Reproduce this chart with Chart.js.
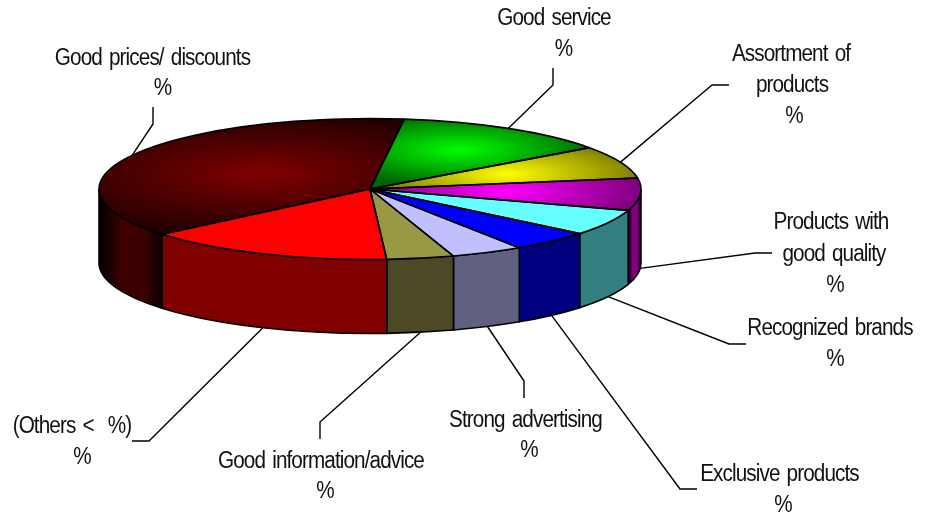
<!DOCTYPE html>
<html>
<head>
<meta charset="utf-8">
<title>3D pie</title>
<script src="https://cdn.jsdelivr.net/npm/chart.js@4"></script>
<style>
  html, body { margin: 0; background: #fff; }
  canvas { display: block; }
</style>
</head>
<body>
<canvas id="pie" width="928" height="514"></canvas>
<script>
// values (shares of the circle, in %)
const categories = ['Good prices/ discounts', 'Good service', 'Assortment of products', 'Products with good quality',
  'Recognized brands', 'Exclusive products', 'Strong advertising', 'Good information/advice', '(Others <  %)'];
const shares = [38.1, 13.0, 7.5, 7.4, 6.0, 4.8, 4.3, 4.0, 14.9];

const topColors  = ['#800000', '#00ff00', '#ffff00', '#ff00ff', '#66ffff', '#0000ff', '#c0c0ff', '#999945', '#ff0000'];
const rimColors  = ['#200000', '#006400', '#7a7a00', '#800080', null, null, null, null, null];
const wallColors = ['#3c0000', '#008000', '#808000', '#800080', '#338080', '#000080', '#606080', '#4d4826', '#800000'];
const shadedWall = [true, false, false, true, false, false, false, false, false];

// text of each callout, one entry per line: [text, centre x, baseline y]
const labelLines = [
  [['Good prices/ discounts', 152.5, 65], ['%', 162.5, 95]],
  [['Good service', 554, 25], ['%', 563.5, 56]],
  [['Assortment of', 791, 61], ['products', 792, 92], ['%', 794, 123]],
  [['Products with', 831, 229], ['good quality', 834, 261], ['%', 835, 292]],
  [['Recognized brands', 830, 335], ['%', 835, 366]],
  [['Exclusive products', 779.5, 481], ['%', 783, 512]],
  [['Strong advertising', 525.5, 427], ['%', 529, 457]],
  [['Good information/advice', 321, 468], ['%', 325, 498]],
  [['(Others <  %)', 72, 433], ['%', 82, 464]],
];
// leader elbow and end, the start comes from the slice itself
const leaderBends = [
  [[153, 124], [153, 107]], [[553, 85], [553, 68]], [[712, 85], [729, 85]],
  [[755, 253], [772, 253]], [[729, 344], [746, 344]], [[680, 489], [697, 489]],
  [[524, 381], [524, 398]], [[320, 422], [320, 439]], [[149, 441], [132, 441]],
];

const RADIUS = 271, FLATTEN = 0.26, DEPTH = 74, ROTATION = 230.1;
const GLOW_RADIUS = [240, 140, 135, 135];
const GLOW_AT = [0.45, 0.65, 0.55, 0.5];

const total = shares.reduce((a, b) => a + b, 0);

function topFill(c) {
  const i = c.dataIndex, area = c.chart.chartArea;
  if (!rimColors[i] || !area) return topColors[i];
  // middle angle of the slice, from the shares
  const before = shares.slice(0, i).reduce((a, b) => a + b, 0);
  const mid = (ROTATION - 90 + (before + shares[i] / 2) / total * 360) * Math.PI / 180;
  const cx = (area.left + area.right) / 2, cy = (area.top + area.bottom) / 2;
  const gx = cx + Math.cos(mid) * RADIUS * GLOW_AT[i], gy = cy + Math.sin(mid) * RADIUS * GLOW_AT[i];
  const g = c.chart.ctx.createRadialGradient(gx, gy, 0, gx, gy, GLOW_RADIUS[i]);
  g.addColorStop(0, topColors[i]);
  g.addColorStop(1, rimColors[i]);
  return g;
}

function wallFill(ctx, i, a0, a1, arc) {
  if (!shadedWall[i]) return wallColors[i];
  // shaded walls run dark - colour - dark from left to right
  const xs = [a0, a1].map(a => arc.x + Math.cos(a) * RADIUS);
  const g = ctx.createLinearGradient(Math.min(...xs), 0, Math.max(...xs), 0);
  g.addColorStop(0, '#000000');
  g.addColorStop(0.35, wallColors[i]);
  g.addColorStop(0.7, wallColors[i]);
  g.addColorStop(1, '#0a000a');
  return g;
}

const pie3d = {
  id: 'pie3d',
  beforeDatasetsDraw(chart) {
    const ctx = chart.ctx, arcs = chart.getDatasetMeta(0).data;
    arcs.forEach((arc, i) => {
      [0, 2 * Math.PI].forEach(turn => {
        const a0 = Math.max(arc.startAngle, turn), a1 = Math.min(arc.endAngle, turn + Math.PI);
        if (a1 <= a0) return;
        ctx.beginPath();
        ctx.ellipse(arc.x, arc.y, RADIUS, RADIUS * FLATTEN, 0, a0, a1);
        ctx.ellipse(arc.x, arc.y + DEPTH, RADIUS, RADIUS * FLATTEN, 0, a1, a0, true);
        ctx.closePath();
        ctx.fillStyle = wallFill(ctx, i, a0 - turn, a1 - turn, arc);
        ctx.fill();
        ctx.strokeStyle = '#000';
        ctx.lineWidth = 1.6;
        ctx.stroke();
      });
    });
    // the library paints the slices in this flattened space
    ctx.save();
    const a = arcs[0];
    ctx.translate(a.x, a.y);
    ctx.scale(1, FLATTEN);
    ctx.translate(-a.x, -a.y);
  },
  afterDatasetsDraw(chart) {
    const ctx = chart.ctx, arcs = chart.getDatasetMeta(0).data;
    ctx.restore();
    ctx.strokeStyle = '#000';
    ctx.lineWidth = 1.6;
    ctx.lineJoin = 'round';
    arcs.forEach(arc => {
      ctx.beginPath();
      ctx.moveTo(arc.x, arc.y);
      ctx.ellipse(arc.x, arc.y, RADIUS, RADIUS * FLATTEN, 0, arc.startAngle, arc.endAngle);
      ctx.closePath();
      ctx.stroke();
    });
  },
  afterDraw(chart) {
    const ctx = chart.ctx, arcs = chart.getDatasetMeta(0).data;
    ctx.strokeStyle = '#000';
    ctx.lineWidth = 1.4;
    arcs.forEach((arc, i) => {
      const mid = (arc.startAngle + arc.endAngle) / 2, s = Math.sin(mid);
      ctx.beginPath();
      ctx.moveTo(arc.x + Math.cos(mid) * RADIUS, arc.y + s * RADIUS * FLATTEN + (s > 0 ? DEPTH : 0));
      leaderBends[i].forEach(p => ctx.lineTo(p[0], p[1]));
      ctx.stroke();
    });
    ctx.fillStyle = '#111';
    ctx.font = '23px "Liberation Sans", Arial, sans-serif';
    ctx.letterSpacing = '-1px';
    ctx.wordSpacing = '2.5px';
    ctx.textAlign = 'center';
    ctx.textBaseline = 'alphabetic';
    // the reference text is a bit condensed
    labelLines.forEach(lines => lines.forEach(l => {
      ctx.save();
      ctx.translate(l[1], l[2]);
      ctx.scale(0.9, 1);
      ctx.fillText(l[0], 0, 0);
      ctx.restore();
    }));
  },
};

new Chart(document.getElementById('pie'), {
  type: 'pie',
  data: {
    labels: categories,
    datasets: [{ data: shares, backgroundColor: topFill, borderWidth: 0, clip: false }],
  },
  options: {
    responsive: false,
    animation: false,
    rotation: ROTATION,
    radius: RADIUS,
    layout: { padding: { right: 188, bottom: 136 } },
    events: [],
    plugins: { legend: { display: false }, tooltip: { enabled: false } },
  },
  plugins: [pie3d],
});
</script>
</body>
</html>
